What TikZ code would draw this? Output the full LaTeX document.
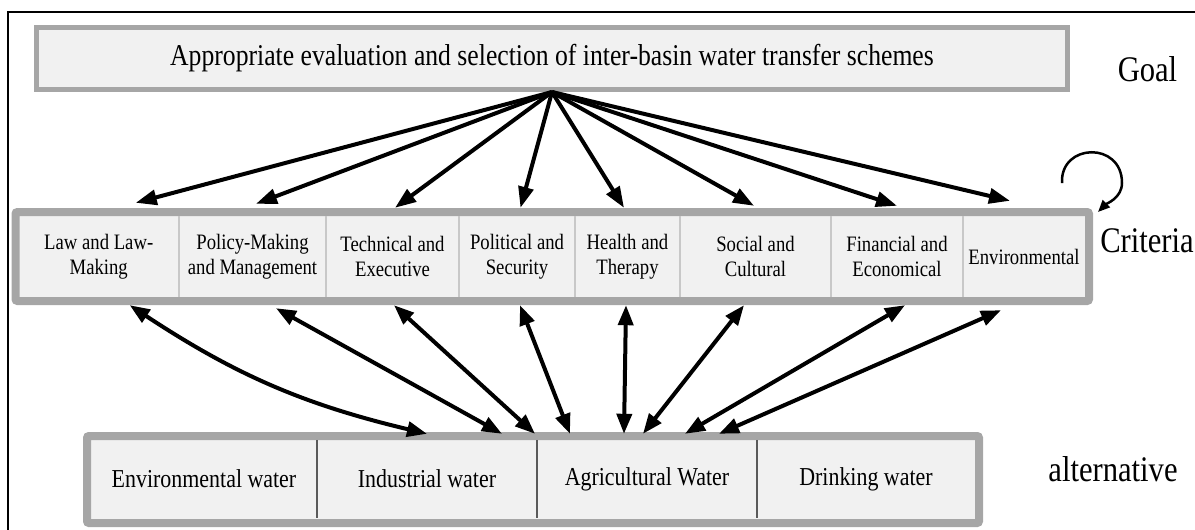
\documentclass[tikz,border=0pt]{standalone}
\usepackage{fontspec}
\setmainfont[FakeStretch=0.85]{Liberation Serif}
\usetikzlibrary{arrows.meta}
\definecolor{boxfill}{HTML}{F1F1F1}
\definecolor{boxline}{HTML}{A6A6A6}
\definecolor{cellline}{HTML}{C8C8C8}
\definecolor{altline}{HTML}{5A5A5A}

\begin{document}
\begin{tikzpicture}[x=1pt,y=-1pt,
        goalbox/.style={draw=boxline,fill=boxfill,line width=5pt,inner sep=0pt,font=\fontsize{30.2}{36}\selectfont},
        groupbox/.style={draw=boxline,fill=boxfill,line width=8pt,rounded corners=2pt,inner sep=0pt},
        critcell/.style={inner sep=0pt,minimum height=81pt,align=center,font=\fontsize{22}{24.5}\selectfont},
        altcell/.style={inner sep=0pt,minimum height=78pt,font=\fontsize{25.8}{30}\selectfont},
        level/.style={anchor=base,font=\fontsize{36}{42}\selectfont},
        thickarrow/.style={line width=4pt,-{Triangle[length=21pt,width=15pt]}},
        botharrow/.style={line width=4pt,{Triangle[length=20pt,width=15pt]}-{Triangle[length=20pt,width=15pt]}},
        selfloop/.style={line width=2.5pt,-{Triangle[length=12pt,width=10pt]}}]
    \useasboundingbox (0,0) rectangle (1195,530);
    \draw[line width=2.5pt] (8,530) -- (8,12) -- (1195,12);

    % goal
    \node[goalbox,minimum width=1031pt,minimum height=62pt] (goal) at (552,58.5)
        {Appropriate evaluation and selection of inter-basin water transfer schemes};

    % criteria
    \node[groupbox,minimum width=1073.5pt,minimum height=89pt] (crit) at (552.25,256.5) {};
    \foreach \nm/\cx/\cw/\txt in {law/98.75/160.5/{Law and Law-\\Making},
            policy/252.5/147/{Policy-Making\\and Management},
            tech/392.5/133/{Technical and\\Executive},
            polit/517/116/{Political and\\Security},
            health/627.5/105/{Health and\\Therapy},
            social/755.5/151/{Social and\\Cultural},
            finan/897/132/{Financial and\\Economical},
            envir/1024/122/{Environmental}}{
        \node[critcell,minimum width=\cw pt] (\nm) at (\cx,256.5) {\txt};
    }
    \foreach \a in {law,policy,tech,polit,health,social,finan}{
        \draw[cellline,line width=1.5pt] (\a.north east) -- (\a.south east);
    }

    % alternatives
    \node[groupbox,minimum width=892pt,minimum height=87pt] (altgroup) at (533,479.5) {};
    \foreach \nm/\cx/\cw/\txt in {env/204/226/Environmental water,
            ind/427/220/Industrial water,
            agr/647/220/Agricultural Water,
            drink/866/218/Drinking water}{
        \node[altcell,minimum width=\cw pt] (\nm) at (\cx,479) {\txt};
    }
    \foreach \a in {env,ind,agr}{
        \draw[altline,line width=1.5pt] (\a.north east) -- (\a.south east);
    }

    % goal to criteria
    \foreach \nm/\dx/\dy in {law/37/13,policy/3.5/12,tech/2.5/8,polit/3.5/8,
            health/-3.5/8,social/-1.5/10,finan/0/10,envir/-14/15}{
        \draw[thickarrow] (goal.south) -- ([xshift=\dx pt,yshift=\dy pt]\nm.north);
    }

    % criteria to alternatives
    \draw[botharrow] ([xshift=31pt,yshift=-8pt]law.south) to[bend right=10] ([yshift=6pt]ind.north);
    \foreach \nm/\dx/\dy/\tg/\tx in {policy/23.5/11/ind/75,tech/1.5/8/ind/108,
            polit/3/8/agr/-77,health/-1.5/8/agr/-23,social/-11.5/8/agr/-4,
            finan/8/8/agr/38,envir/-23/13/agr/72}{
        \draw[botharrow] ([xshift=\dx pt,yshift=-\dy pt]\nm.south) -- ([xshift=\tx pt,yshift=6pt]\tg.north);
    }

    % loop on criteria
    \coordinate (loopstart) at (1062,183);
    \draw[selfloop] (loopstart) .. controls (1060,143) and (1122,141) .. (1122,183)
        .. controls (1122,198) and (1106,204) .. ([xshift=5pt,yshift=-4pt]crit.north east);

    % levels
    \node[level] (goallbl) at (1147.5,81) {Goal};
    \node[level] (critlbl) at (1147,252) {Criteria};
    \node[level] (altlbl) at (1113,481) {alternative};
\end{tikzpicture}
\end{document}
